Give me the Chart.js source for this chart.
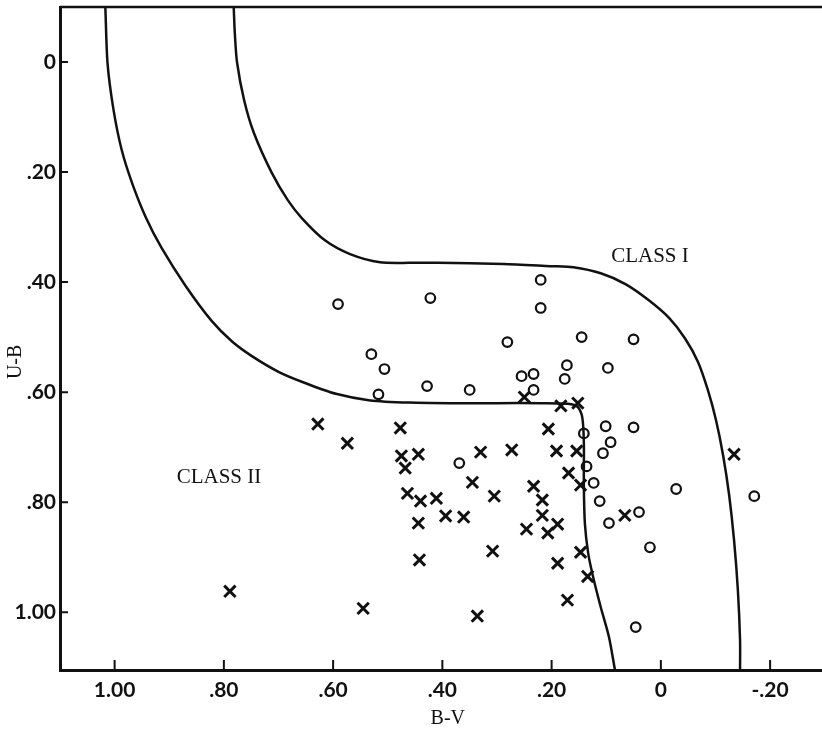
<!DOCTYPE html>
<html lang="en">
<head>
  <meta charset="UTF-8" /><meta name="viewport" content="width=device-width,initial-scale=1" />
  <title>U-B vs B-V</title>
  <script src="https://cdn.jsdelivr.net/npm/chart.js"></script>
  <style>body{margin:0;background:#fff;}canvas{display:block;}</style>
</head>
<body>
  <canvas id="chart" width="822" height="734"></canvas>
  <script>
    // axis ticks
    const bvTicks = [1.0, 0.8, 0.6, 0.4, 0.2, 0, -0.2];
    const bvTickLabels = ['1.00', '.80', '.60', '.40', '.20', '0', '-.20'];
    const ubTicks = [0, 0.2, 0.4, 0.6, 0.8, 1.0];
    const ubTickLabels = ['0', '.20', '.40', '.60', '.80', '1.00'];

    // circles
    const circleBV = [0.591, 0.422, 0.220, 0.220, 0.530, 0.506, 0.517, 0.428, 0.350, 0.281, 0.255,
      0.233, 0.233, 0.145, 0.050, 0.172, 0.097, 0.176, 0.141, 0.101, 0.050, 0.092, 0.106, 0.136,
      0.123, -0.028, -0.171, 0.112, 0.040, 0.095, 0.020, 0.046, 0.369];
    const circleUB = [0.440, 0.429, 0.396, 0.447, 0.531, 0.558, 0.604, 0.589, 0.596, 0.509, 0.571,
      0.567, 0.596, 0.500, 0.504, 0.551, 0.556, 0.576, 0.675, 0.662, 0.664, 0.691, 0.711, 0.735,
      0.765, 0.776, 0.789, 0.798, 0.818, 0.838, 0.882, 1.027, 0.729];

    // crosses
    const crossBV = [0.628, 0.574, 0.477, 0.475, 0.444, 0.468, 0.330, 0.273, 0.345, 0.233, 0.206,
      0.250, 0.464, 0.440, 0.411, 0.305, 0.444, 0.394, 0.361, 0.246, 0.183, 0.152, 0.191, 0.154,
      0.169, 0.147, 0.217, 0.217, 0.189, 0.207, 0.066, 0.308, 0.442, 0.545, 0.336, 0.147, 0.134,
      0.189, 0.171, 0.789, -0.134];
    const crossUB = [0.658, 0.693, 0.665, 0.716, 0.713, 0.738, 0.709, 0.705, 0.764, 0.771, 0.667,
      0.609, 0.784, 0.798, 0.793, 0.789, 0.838, 0.825, 0.827, 0.849, 0.625, 0.620, 0.707, 0.707,
      0.747, 0.769, 0.796, 0.824, 0.840, 0.856, 0.824, 0.889, 0.905, 0.993, 1.007, 0.891, 0.935,
      0.911, 0.978, 0.962, 0.713];

    // Class II boundary (inner curve)
    const innerBV = [1.017, 1.013, 1.002, 0.987, 0.968, 0.943, 0.914, 0.870, 0.822, 0.785, 0.748,
      0.700, 0.655, 0.595, 0.532, 0.460, 0.385, 0.300, 0.220, 0.170, 0.152, 0.144, 0.141, 0.141,
      0.139, 0.133, 0.124, 0.110, 0.095, 0.084];
    const innerUB = [-0.10, 0.002, 0.087, 0.160, 0.220, 0.282, 0.338, 0.407, 0.471, 0.508, 0.535,
      0.563, 0.582, 0.603, 0.615, 0.619, 0.620, 0.620, 0.620, 0.621, 0.627, 0.645, 0.690, 0.770,
      0.840, 0.893, 0.936, 0.991, 1.045, 1.105];

    // Class I boundary (outer curve)
    const outerBV = [0.782, 0.780, 0.776, 0.763, 0.745, 0.712, 0.683, 0.657, 0.615, 0.569, 0.514,
      0.459, 0.409, 0.288, 0.202, 0.160, 0.110, 0.064, 0.022, -0.015, -0.044, -0.068, -0.086,
      -0.101, -0.114, -0.125, -0.134, -0.141, -0.145, -0.145];
    const outerUB = [-0.10, -0.053, 0, 0.069, 0.129, 0.202, 0.251, 0.284, 0.324, 0.349, 0.364,
      0.365, 0.365, 0.367, 0.371, 0.373, 0.384, 0.404, 0.433, 0.465, 0.502, 0.545, 0.596,
      0.651, 0.715, 0.787, 0.869, 0.960, 1.051, 1.105];

    const classText = ['CLASS I', 'CLASS II'];
    const classBV = [0.020, 0.809];
    const classUB = [0.353, 0.755];

    const ink = '#111';
    const pts = (xs, ys) => xs.map((v, i) => ({ x: v, y: ys[i] }));

    const extras = {
      id: 'extras',
      afterDraw(chart) {
        const { ctx, chartArea: a, scales: { x, y } } = chart;
        ctx.save();
        ctx.strokeStyle = ink;
        ctx.lineWidth = 2.5;
        ctx.beginPath();
        ctx.moveTo(a.left, a.top); ctx.lineTo(a.right, a.top);
        ctx.stroke();
        // inward tick marks
        ctx.lineWidth = 2;
        ctx.beginPath();
        x.ticks.forEach(t => {
          const px = x.getPixelForValue(t.value);
          ctx.moveTo(px, a.bottom); ctx.lineTo(px, a.bottom - 10);
        });
        y.ticks.forEach(t => {
          const py = y.getPixelForValue(t.value);
          ctx.moveTo(a.left, py); ctx.lineTo(a.left + 8, py);
        });
        ctx.stroke();
        ctx.fillStyle = ink;
        ctx.textAlign = 'center';
        ctx.textBaseline = 'middle';
        ctx.font = '21px "Liberation Serif"';
        classText.forEach((s, i) => ctx.fillText(s, x.getPixelForValue(classBV[i]), y.getPixelForValue(classUB[i])));
        ctx.font = '20px "Liberation Serif"';
        ctx.fillText('B-V', x.getPixelForValue(0.39), a.bottom + 49);
        ctx.translate(16, y.getPixelForValue(0.545));
        ctx.rotate(-Math.PI / 2);
        ctx.fillText('U-B', 0, 0);
        ctx.restore();
      }
    };

    Chart.defaults.color = ink;
    new Chart(document.getElementById('chart'), {
      type: 'scatter',
      data: {
        datasets: [
          { data: pts(innerBV, innerUB), showLine: true, pointRadius: 0, borderColor: ink, borderWidth: 2.5, tension: 0.25, fill: false },
          { data: pts(outerBV, outerUB), showLine: true, pointRadius: 0, borderColor: ink, borderWidth: 2.5, tension: 0.25, fill: false },
          { data: pts(circleBV, circleUB), pointStyle: 'circle', pointRadius: 4.8, borderWidth: 2.2, borderColor: ink, backgroundColor: 'rgba(0,0,0,0)' },
          { data: pts(crossBV, crossUB), pointStyle: 'crossRot', pointRadius: 8, borderWidth: 3, borderColor: ink }
        ]
      },
      options: {
        responsive: false,
        animation: false,
        layout: { autoPadding: false, padding: { top: 7, left: 0, right: 0, bottom: 0 } },
        plugins: { legend: { display: false }, tooltip: { enabled: false } },
        scales: {
          x: {
            type: 'linear', reverse: true, min: -0.295, max: 1.10,
            afterBuildTicks: s => { s.ticks = bvTicks.map(v => ({ value: v })); },
            afterFit: s => { s.height = 64; s.paddingLeft = 0; s.paddingRight = 0; },
            grid: { display: false, drawTicks: false },
            border: { display: true, color: ink, width: 3 },
            ticks: {
              padding: 8, maxRotation: 0, autoSkip: false,
              font: { family: 'Lato', size: 21, weight: 'bold' },
              callback: (v, i) => bvTickLabels[i]
            }
          },
          y: {
            type: 'linear', reverse: true, min: -0.10, max: 1.105,
            afterBuildTicks: s => { s.ticks = ubTicks.map(v => ({ value: v })); },
            afterFit: s => { s.width = 60; s.paddingTop = 0; s.paddingBottom = 0; },
            grid: { display: false, drawTicks: false },
            border: { display: true, color: ink, width: 3 },
            ticks: {
              padding: 4, autoSkip: false,
              font: { family: 'Lato', size: 21, weight: 'bold' },
              callback: (v, i) => ubTickLabels[i]
            }
          }
        }
      },
      plugins: [extras]
    });
  </script>
</body>
</html>
